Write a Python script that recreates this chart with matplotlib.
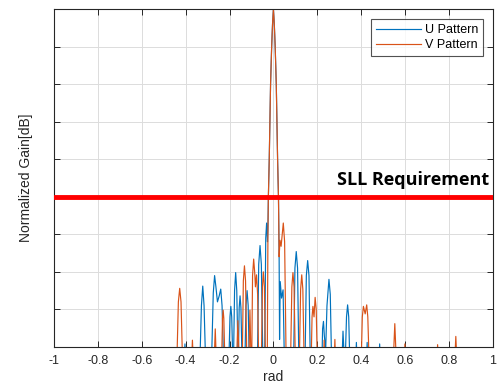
import matplotlib
matplotlib.use("Agg")
import matplotlib.pyplot as plt

# U pattern (blue): vertices (rad, dB).
# points at -47 dB are the nulls, just under the bottom of the axis
u_x = [-1.0,
       -0.407, -0.403, -0.399,
       -0.335, -0.328, -0.322, -0.316, -0.309,
       -0.282, -0.274, -0.268, -0.262, -0.255, -0.247, -0.240, -0.234, -0.227,
       -0.203, -0.198, -0.194, -0.190, -0.185,
       -0.182, -0.177, -0.172, -0.167, -0.161,
       -0.160, -0.156, -0.152, -0.148, -0.143,
       -0.130, -0.125, -0.120, -0.115, -0.110,
       -0.073, -0.067, -0.061, -0.055, -0.048,
       -0.040, -0.035, -0.031, -0.027, -0.025,
       -0.023, -0.019, -0.013, -0.008, -0.004, 0.0, 0.004, 0.008, 0.013, 0.019, 0.023,
       0.026, 0.028, 0.031, 0.037, 0.044, 0.050,
       0.092, 0.098, 0.104, 0.110, 0.116,
       0.144, 0.150, 0.156, 0.162, 0.168,
       0.221, 0.224, 0.228, 0.232, 0.238, 0.244, 0.253, 0.259, 0.265,
       0.312, 0.317, 0.322, 0.327, 0.333, 0.338, 0.343, 0.348,
       0.375, 0.378, 0.381,
       0.424, 0.427, 0.430,
       0.481, 0.484, 0.487,
       1.0]
u_db = [-47,
        -47, -44.6, -47,
        -47, -39.5, -36.9, -39.5, -47,
        -47, -37.8, -35.5, -37.0, -39.0, -38.2, -37.3, -39.5, -47,
        -47, -41.0, -39.6, -41.0, -47,
        -47, -37.5, -35.1, -37.5, -47,
        -47, -39.8, -38.2, -39.8, -47,
        -47, -39.5, -37.5, -39.5, -47,
        -47, -34.0, -31.5, -34.0, -47,
        -47, -30.5, -28.5, -31.0, -29.0,
        -25, -20, -10, -5, -2, 0, -2, -5, -10, -20, -25,
        -33.0, -44.0, -36.3, -38.5, -37.4, -47,
        -47, -34.5, -32.3, -34.5, -47,
        -47, -35.5, -33.5, -35.5, -47,
        -47, -42.6, -41.6, -43.5, -45.5, -39.5, -36.0, -38.0, -47,
        -47, -42.9, -46.0, -47, -41.0, -39.4, -41.0, -47,
        -47, -44.4, -47,
        -47, -44.4, -47,
        -47, -44.6, -47,
        -47]

# V pattern (orange)
v_x = [-1.0,
       -0.440, -0.433, -0.427, -0.421, -0.414,
       -0.373, -0.369, -0.365,
       -0.270, -0.265, -0.260,
       -0.236, -0.232, -0.229, -0.226, -0.221,
       -0.168, -0.162, -0.156,
       -0.142, -0.137, -0.132, -0.127, -0.121,
       -0.112, -0.107, -0.102,
       -0.099, -0.095, -0.090, -0.085, -0.082, -0.077, -0.072, -0.067,
       -0.055, -0.050, -0.046, -0.041, -0.036,
       -0.028, -0.025,
       -0.023, -0.019, -0.013, -0.008, -0.004, 0.0, 0.004, 0.008, 0.013, 0.019, 0.023,
       0.026, 0.030, 0.035, 0.045, 0.051, 0.058,
       0.078, 0.084, 0.089, 0.094, 0.100,
       0.118, 0.124, 0.129, 0.134, 0.140,
       0.172, 0.176, 0.180, 0.185, 0.190, 0.195, 0.200,
       0.228, 0.231, 0.234,
       0.277, 0.280, 0.283,
       0.400, 0.405, 0.410, 0.418, 0.425, 0.430, 0.436,
       0.546, 0.553, 0.560,
       0.596, 0.599, 0.602,
       0.745, 0.748, 0.751,
       0.826, 0.831, 0.836,
       1.0]
v_db = [-47,
        -47, -39.0, -37.2, -39.0, -47,
        -47, -44.1, -47,
        -47, -42.6, -47,
        -47, -41.2, -40.1, -41.2, -47,
        -47, -41.5, -47,
        -47, -36.2, -34.2, -36.2, -47,
        -47, -40.1, -47,
        -47, -35.5, -33.3, -35.2, -37.0, -35.4, -38.0, -47,
        -47, -37.0, -35.0, -37.0, -47,
        -47, -30.0,
        -25, -20, -10, -5, -2, 0, -2, -5, -10, -20, -25,
        -33.0, -30.8, -31.6, -28.5, -31.0, -47,
        -47, -37.0, -35.1, -37.0, -47,
        -47, -37.3, -35.4, -37.3, -47,
        -47, -41.0, -39.6, -41.0, -38.4, -40.0, -47,
        -47, -44.1, -47,
        -47, -44.0, -47,
        -47, -41.0, -39.6, -40.6, -39.4, -41.0, -47,
        -47, -41.9, -47,
        -47, -44.6, -47,
        -47, -44.7, -47,
        -47, -43.6, -47,
        -47]

sll_db = -25
x_ticks = [-1, -0.8, -0.6, -0.4, -0.2, 0, 0.2, 0.4, 0.6, 0.8, 1]
x_labels = ["-1", "-0.8", "-0.6", "-0.4", "-0.2", "0", "0.2", "0.4", "0.6", "0.8", "1"]
y_ticks = [-45, -40, -35, -30, -25, -20, -15, -10, -5, 0]

plt.rcParams['font.family'] = ['Liberation Sans', 'DejaVu Sans']

fig = plt.figure(figsize=(5.04, 3.92), dpi=100)
ax = fig.add_axes([0.107, 0.115, 0.871, 0.862])

ax.plot(u_x, u_db, color='#0072BD', lw=0.85, label='U Pattern')
ax.plot(v_x, v_db, color='#D95319', lw=0.85, label='V Pattern')
ax.axhline(sll_db, color='#FF0000', lw=3.5, zorder=5)
ax.text(0.985, sll_db + 1.0, 'SLL Requirement', ha='right', va='bottom',
        fontsize=13, fontweight='bold', family=['Open Sans', 'DejaVu Sans'])

ax.set_xlim(-1, 1)
ax.set_ylim(-45, 0)
ax.set_xticks(x_ticks)
ax.set_xticklabels(x_labels)
ax.set_yticks(y_ticks)
ax.set_yticklabels([])
ax.tick_params(direction='in', length=4, width=0.7, top=True, right=True,
               labelsize=9, colors='#262626', pad=6)
ax.grid(True, color='#dcdcdc', lw=0.7)
ax.set_axisbelow(True)
for s in ax.spines.values():
    s.set_color('#262626')
    s.set_linewidth(0.8)

ax.set_xlabel('rad', fontsize=10, color='#262626', labelpad=2)
ax.set_ylabel('Normalized Gain[dB]', fontsize=10, color='#262626', labelpad=9)

leg = ax.legend(loc='upper right', fontsize=9, frameon=True, fancybox=False,
                handlelength=3.6, handletextpad=0.3, borderpad=0.4,
                labelspacing=0.25, borderaxespad=0.8)
leg.get_frame().set_edgecolor('#262626')
leg.get_frame().set_linewidth(0.8)

fig.savefig('out.png', dpi=100)
